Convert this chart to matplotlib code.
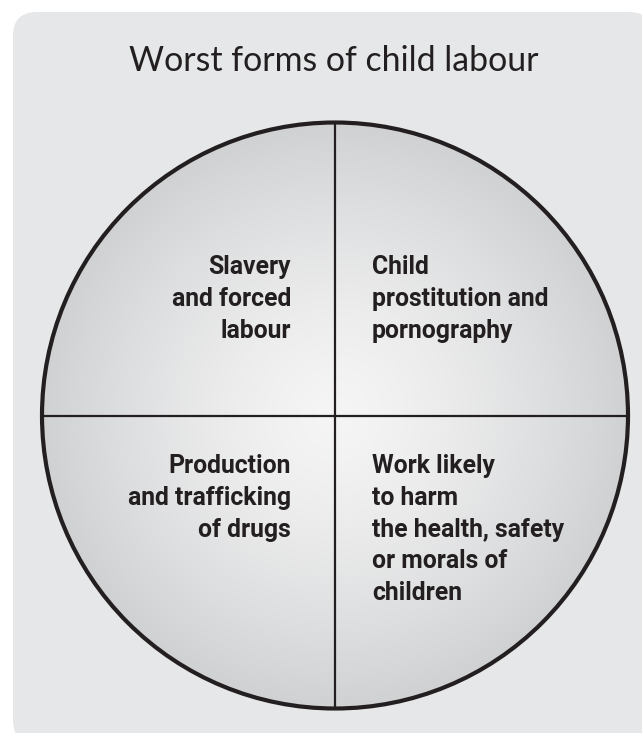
import numpy as np
import matplotlib
matplotlib.use("Agg")
import matplotlib.pyplot as plt
from matplotlib.patches import Circle, FancyBboxPatch

title = "Worst forms of child labour"
quadrants = ["top_left", "top_right", "bottom_left", "bottom_right"]
labels = [
    "Slavery\nand forced\nlabour",
    "Child\nprostitution and\npornography",
    "Production\nand trafficking\nof drugs",
    "Work likely\nto harm\nthe health, safety\nor morals of\nchildren",
]

W, H = 642, 733
fig = plt.figure(figsize=(W / 100, H / 100), dpi=100)
ax = fig.add_axes([0, 0, 1, 1])
ax.set_xlim(0, W)
ax.set_ylim(H, 0)
ax.axis("off")

ink = "#231f20"
bg = "#e6e7e8"

box = FancyBboxPatch((13, 12), 640, 732, boxstyle="round,pad=0,rounding_size=24",
                     facecolor=bg, edgecolor="none", zorder=0)
ax.add_patch(box)

cx, cy, r = 335, 415.5, 293

# radial gradient fill
n = 400
xs = np.linspace(cx - r, cx + r, n)
ys = np.linspace(cy - r, cy + r, n)
X, Y = np.meshgrid(xs, ys)
d = np.sqrt((X - cx) ** 2 + (Y - cy) ** 2) / r
d = np.clip(d, 0, 1)
c_in = np.array([0.96, 0.96, 0.96])
c_out = np.array([0.815, 0.82, 0.828])
t = d ** 1.4
img = c_in[None, None, :] * (1 - t[..., None]) + c_out[None, None, :] * t[..., None]
im = ax.imshow(img, extent=(cx - r, cx + r, cy + r, cy - r), zorder=1, interpolation="bilinear")
clip = Circle((cx, cy), r, transform=ax.transData)
im.set_clip_path(clip)

ax.add_patch(Circle((cx, cy), r, facecolor="none", edgecolor=ink, lw=3.0, zorder=3))
ax.plot([cx, cx], [cy - r, cy + r], color=ink, lw=1.6, zorder=2, solid_capstyle="butt")
ax.plot([cx - r, cx + r], [cy, cy], color=ink, lw=1.6, zorder=2, solid_capstyle="butt")

ax.text(cx - 1.5, 71, title, ha="center", va="baseline", fontsize=24.4,
        family="Lato", fontweight="normal", color=ink, zorder=4)

pos = {
    "top_left": (291, 274, "right"),
    "top_right": (372, 274, "left"),
    "bottom_left": (291, 473, "right"),
    "bottom_right": (372, 473, "left"),
}
step = 31.8
for q, lab in zip(quadrants, labels):
    x, y, ha = pos[q]
    for i, line in enumerate(lab.split("\n")):
        ax.text(x, y + i * step, line, ha=ha, va="baseline", fontsize=17.8,
                family="Roboto", fontweight="bold", color=ink, zorder=4)

fig.savefig("out.png", dpi=100)
